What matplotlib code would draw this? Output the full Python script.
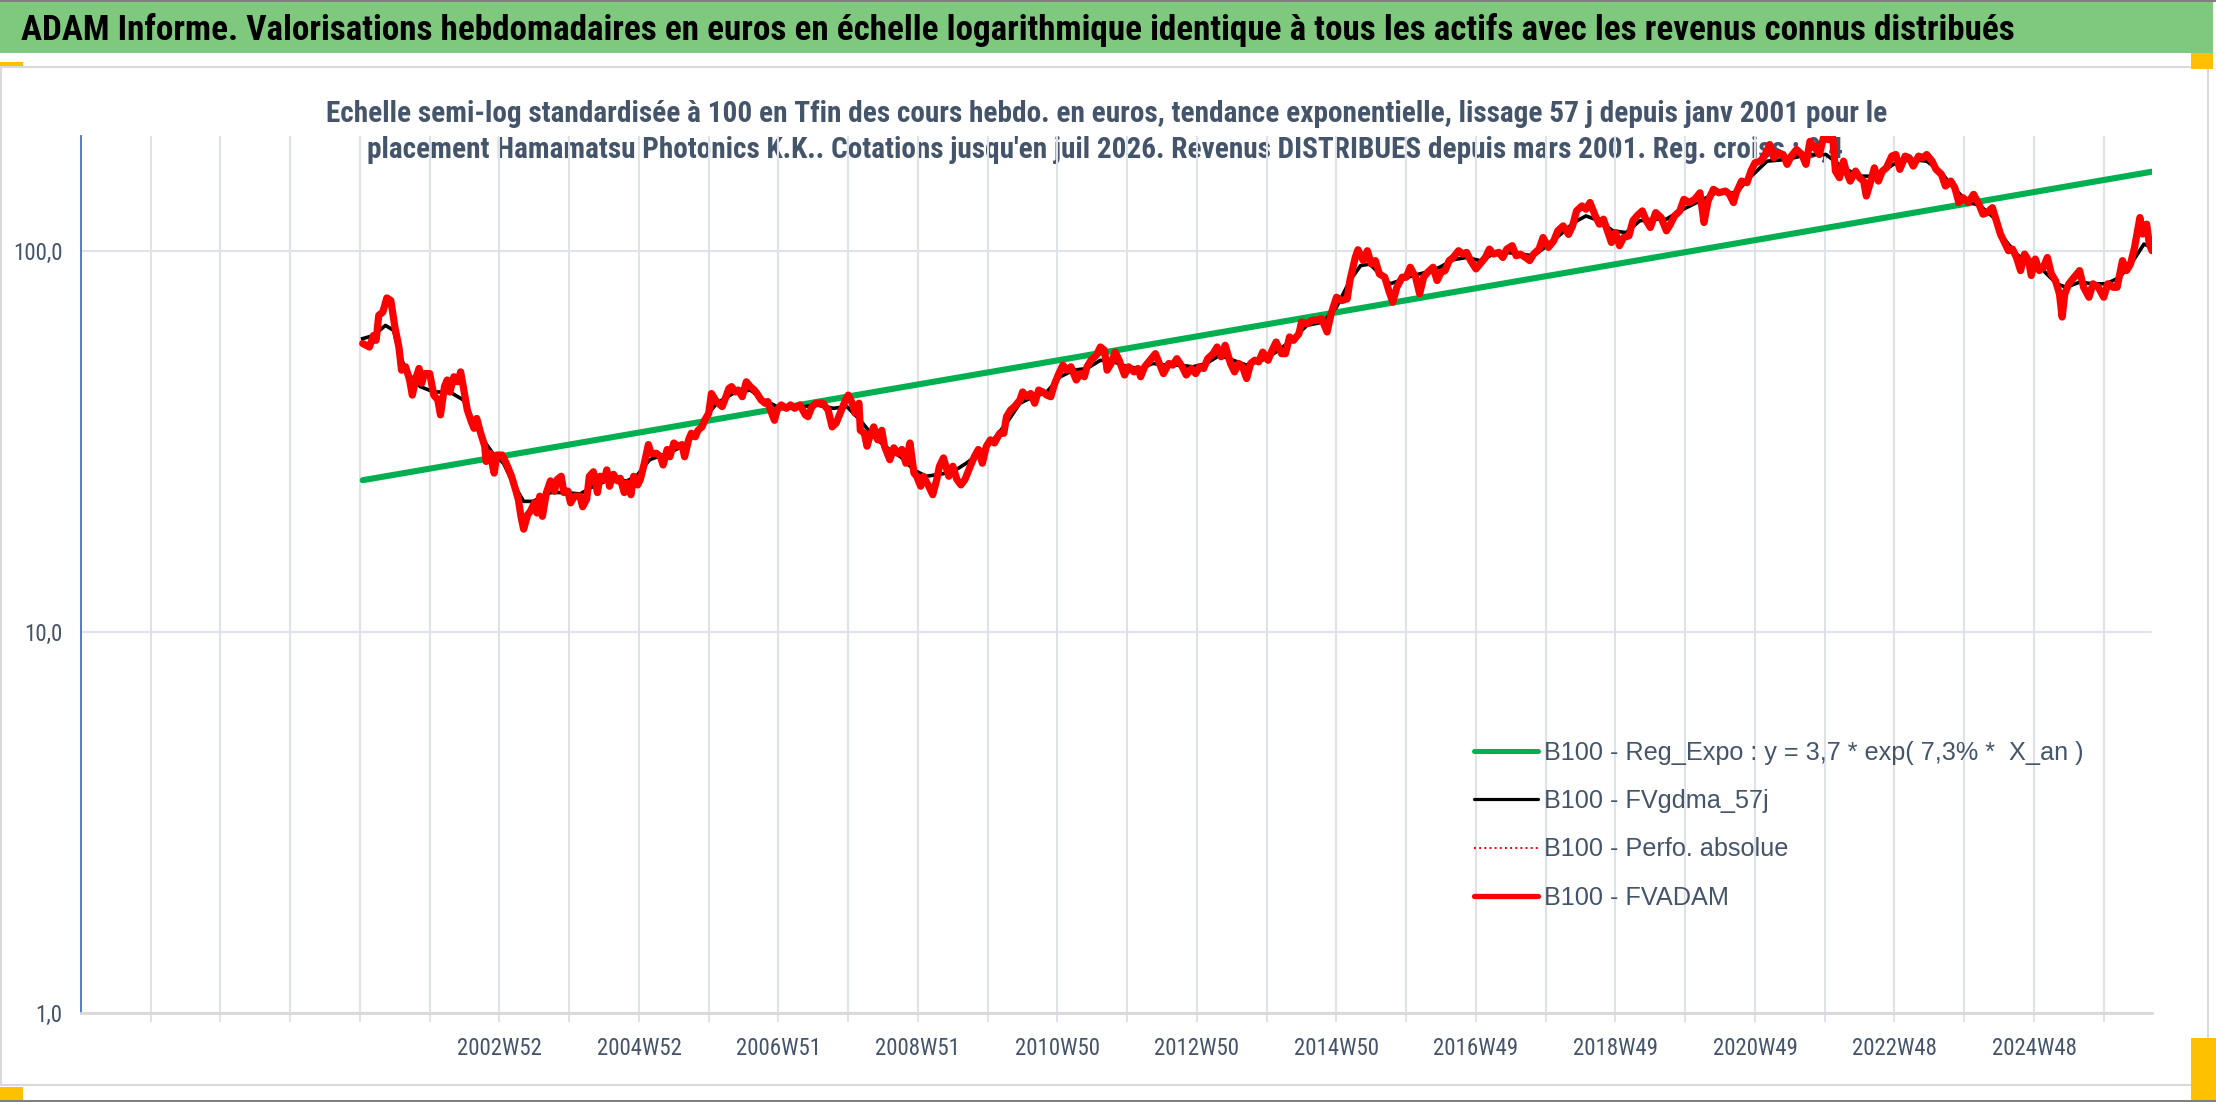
import matplotlib
matplotlib.use("Agg")
import matplotlib.pyplot as plt
from matplotlib import font_manager as fm
from matplotlib.patches import Rectangle
from matplotlib.lines import Line2D
from matplotlib.ticker import NullLocator, FixedLocator

# ---------------- DATA ----------------
title_text = ("ADAM Informe. Valorisations hebdomadaires en euros en échelle logarithmique "
              "identique à tous les actifs avec les revenus connus distribués")
subtitle_line1 = ("Echelle semi-log standardisée à 100 en Tfin des cours hebdo. en euros, tendance "
                  "exponentielle, lissage 57 j depuis janv 2001 pour le")
subtitle_line2 = ("placement Hamamatsu Photonics K.K.. Cotations jusqu'en juil 2026. Revenus "
                  "DISTRIBUES depuis mars 2001. Reg. croiss : 9,4")

legend_labels = ["B100 - Reg_Expo : y = 3,7 * exp( 7,3% *  X_an )",
                 "B100 - FVgdma_57j",
                 "B100 - Perfo. absolue",
                 "B100 - FVADAM"]

# category axis: weekly categories, index 0 .. 1544
n_weeks = 1544
grid_every = 52
xtick_labels = {6: "2002W52", 8: "2004W52", 10: "2006W51", 12: "2008W51", 14: "2010W50",
                16: "2012W50", 18: "2014W50", 20: "2016W49", 22: "2018W49", 24: "2020W49",
                26: "2022W48", 28: "2024W48"}
ytick_vals = [1, 10, 100]
ytick_labels = ["1,0", "10,0", "100,0"]

# exponential trend (straight on a log axis): start / end values
trend_weeks = [210, 1544]
trend_vals = [25.0, 161.2]

# FVADAM (weekly valuation, base 100 at end)
red_weeks = [210, 215, 218, 220, 222, 225, 228, 231, 234, 237, 239, 242, 245, 247, 250, 252, 254, 256,
             260, 263, 266, 268, 271, 273, 275, 278, 281, 283, 285, 288, 291, 293, 295, 298, 301, 302,
             305, 308, 310, 314, 317, 321, 324, 326, 328, 330, 333, 335, 338, 340, 342, 344, 347, 350,
             353, 355, 358, 360, 363, 365, 368, 372, 374, 377, 379, 382, 385, 387, 390, 392, 394, 397,
             400, 402, 405, 407, 410, 412, 415, 417, 420, 423, 425, 429, 432, 434, 437, 439, 442, 445,
             448, 450, 453, 455, 458, 460, 463, 465, 468, 470, 473, 475, 478, 480, 483, 485, 488, 490,
             493, 496, 499, 502, 504, 507, 510, 512, 514, 517, 519, 522, 526, 529, 532, 536, 540, 542,
             545, 548,
             553, 557, 560, 563, 566, 570, 572, 575, 577, 580, 581, 584, 586, 588, 591, 594, 597, 599,
             603, 606, 609, 612, 615, 618, 621, 623, 626, 628, 632, 635, 638, 640, 643, 647, 650, 653,
             656, 659, 663, 666, 669, 672, 675, 678, 681, 685, 688, 690, 693, 696, 700, 702, 705, 708,
             711, 714, 717, 720, 723, 726, 729, 732, 735, 738, 742, 745, 748, 750, 753, 757, 760, 763,
             765, 768, 771, 774, 778, 781, 785, 788, 790, 793, 797, 801, 804, 807, 811, 814, 817, 821,
             824, 828, 831, 834, 837, 840, 844, 847, 850, 853, 857, 860, 863, 866, 869, 872, 875, 878,
             881, 885,
             888, 891, 895, 898, 901, 904, 908, 910, 914, 918, 921, 925, 929, 932, 936, 940, 944, 946,
             950, 952, 956, 959, 962, 965, 968, 972, 975, 978, 981, 985, 988, 991, 995, 998, 1001, 1004,
             1008, 1011, 1014, 1017, 1020, 1023, 1027, 1030, 1033, 1036, 1040, 1043, 1047, 1050, 1053,
             1057, 1060, 1063, 1067, 1070, 1073, 1077, 1080, 1083, 1087, 1090, 1094, 1098, 1101, 1105,
             1109, 1112, 1115, 1119, 1122, 1125, 1129, 1132, 1135, 1138, 1141, 1144, 1147, 1150, 1154,
             1157, 1160, 1164, 1167, 1170, 1174, 1178, 1182, 1185, 1188, 1192, 1195, 1199, 1203, 1207,
             1210, 1213, 1217, 1221,
             1226, 1229, 1232, 1234, 1238, 1242, 1245, 1248, 1252, 1255, 1259, 1262, 1265, 1269, 1272,
             1275, 1279, 1283, 1286, 1289, 1293, 1296, 1299, 1303, 1306, 1308, 1311, 1314, 1316, 1319,
             1323, 1326, 1329, 1331, 1334, 1337, 1340, 1343, 1346, 1350, 1353, 1356, 1360, 1363, 1366,
             1370, 1373, 1376, 1380, 1383, 1387, 1390, 1394, 1397, 1400, 1403, 1407, 1411, 1415, 1418,
             1421, 1425, 1428, 1431, 1434, 1437, 1440, 1443, 1446, 1449, 1452, 1454, 1457, 1460, 1463,
             1466, 1469, 1472, 1475, 1477, 1479, 1482, 1486, 1490, 1493, 1497, 1500, 1504, 1508, 1511,
             1515, 1518, 1522, 1525, 1528, 1531, 1535, 1537, 1540, 1542, 1544]
red_vals = [57.1, 55.9, 59.9, 58.2, 67.7, 69.0, 75.2, 74.0, 63.1, 55.9, 48.6, 49.6, 45.8, 41.8, 46.7, 49.1,
            44.9, 47.6, 47.6, 41.8, 40.6, 37.1, 44.0, 45.8, 42.6, 46.7, 45.3, 48.1, 44.0, 38.2, 35.6, 34.2,
            36.3, 33.2, 30.7, 28.0, 29.4, 26.1, 29.1, 29.1, 27.7, 25.6, 23.6, 22.3, 20.1, 18.6, 20.3, 20.7,
            21.8, 20.5, 22.7, 20.1, 23.2, 24.9, 23.4, 25.1, 25.6, 23.2, 23.4, 21.8, 22.7, 22.7, 21.3, 22.3,
            25.6, 26.3, 23.2, 25.6, 25.1, 26.6, 24.1, 25.9, 24.9, 25.3, 23.2, 24.6, 22.9, 25.6, 24.3, 25.1,
            27.7, 31.0, 29.4, 29.4, 28.8, 27.4, 30.1, 28.8, 31.3, 30.7, 31.0, 28.8, 31.9, 33.2, 32.5, 33.8,
            34.5, 35.9, 37.5, 42.2, 40.6, 39.8, 39.0, 40.6, 43.5, 44.0, 42.6, 43.1, 41.4, 45.3, 44.0, 43.1,
            42.2, 40.6, 39.8, 40.2, 38.2, 35.9, 38.2, 39.4, 38.6, 39.4, 38.6, 39.4, 37.1, 36.7, 39.0, 39.8,
            39.8, 38.2, 34.5, 35.3, 37.5, 40.6, 41.8, 39.8, 37.5, 39.8, 33.8, 33.2, 30.7, 32.5, 34.5, 31.9,
            33.8, 30.7, 28.3, 30.4, 29.4, 30.1, 27.7, 31.3, 26.1, 25.6, 24.1, 25.6, 24.1, 22.9, 25.1, 27.2,
            28.6, 25.6, 27.2, 25.1, 24.3, 25.1, 27.2, 28.8, 30.1, 27.7, 30.7, 31.9, 31.3, 33.2, 33.2, 36.7,
            38.2, 39.0, 40.6, 42.6, 41.4, 42.2, 39.8, 43.1, 42.6, 41.8, 41.4, 44.9, 47.6, 50.1, 48.6, 49.6,
            45.8, 47.6, 46.7, 49.6, 51.6, 53.2, 55.9, 54.8, 48.6, 50.6, 54.2, 51.6, 47.2, 49.6, 48.1, 49.1,
            46.7, 49.6, 51.6, 53.7, 50.6, 47.6, 50.6, 50.1, 52.1, 49.6, 47.2, 49.1, 47.6, 49.6, 49.1, 52.1,
            53.7, 55.9, 52.7, 56.5, 50.6, 48.1, 50.6, 49.6, 46.2, 50.6, 51.6, 51.1, 54.2, 51.6,
            54.8, 57.6, 53.7, 53.7, 59.4, 58.2, 60.6, 65.0, 64.4, 65.7, 65.7, 66.3, 61.2, 68.3, 75.5, 74.0,
            74.8, 83.5, 96.0, 100.6, 94.2, 100.0, 92.3, 94.2, 86.9, 85.2, 78.6, 73.3, 80.2, 85.2, 85.2,
            90.5, 85.2, 77.1, 85.2, 87.8, 90.5, 83.5, 87.8, 88.7, 94.2, 96.0, 100.0, 98.0, 99.0, 94.2,
            89.6, 92.3, 96.0, 101.0, 98.0, 99.0, 96.0, 101.0, 103.1, 97.0, 98.0, 96.0, 94.2, 98.0, 101.0,
            108.3, 102.0, 106.2, 112.8, 116.2, 110.4, 116.2, 127.2, 131.1, 128.5, 133.8, 123.4, 117.4,
            121.0, 112.8, 105.1, 111.6, 103.1, 108.3, 109.4, 119.8, 123.4, 127.2, 119.8, 115.1, 125.9,
            122.2, 112.8, 117.4, 123.4, 127.2, 136.4, 133.8, 136.4, 141.9, 118.6, 135.1, 144.9, 141.9,
            143.4, 140.6, 133.8, 141.9, 152.3, 150.8, 161.8, 170.1, 171.8, 177.1, 189.9, 175.3, 180.5,
            178.8, 168.5, 177.1, 184.3, 178.8, 168.5, 193.6, 186.1, 178.8, 197.5, 195.6, 197.5, 161.8,
            155.4, 171.8, 161.8, 152.3, 161.8, 155.4, 152.3, 139.2, 150.8, 165.0, 152.3, 161.8, 165.0,
            177.1, 178.8, 163.5, 177.1, 175.3, 166.8, 177.1, 175.3, 178.8, 171.8, 163.5, 158.6, 147.8,
            152.3, 146.3, 133.8, 137.8, 133.8, 140.6, 132.4, 124.7, 125.9, 129.7, 119.8, 110.6, 105.1,
            100.0, 101.0, 96.0, 88.7, 98.0, 94.2, 86.1, 95.1, 88.7, 90.5, 96.0, 86.9, 83.5, 77.1, 67.0,
            77.1, 81.9, 85.2, 88.7, 80.2, 75.5, 81.9, 80.2, 75.5, 81.9, 80.2, 80.2, 94.2, 88.7, 92.3,
            102.0, 122.2, 110.6, 117.4, 104.1, 100.0]

# FVgdma_57j (smoothed)
black_weeks = [210, 218, 227, 233, 238, 244, 253, 263, 275, 285, 292, 300, 307, 315, 322, 330, 337, 350,
               362, 372, 382, 394, 407, 414, 424, 437, 449, 459, 466, 474, 486, 499, 509, 519, 531, 548,
               561, 571, 581, 591, 601, 611, 621, 630, 640, 650, 660, 670, 680, 690, 700, 710, 720, 730,
               740, 750, 760, 770, 780, 790, 799, 809, 819, 829, 839, 849, 859, 869, 884, 901, 914, 926,
               936, 946, 954, 961, 968, 976, 983, 993, 1003, 1013, 1023, 1033, 1043, 1053, 1063, 1073,
               1083, 1093, 1103, 1113, 1122, 1132, 1142, 1152, 1162, 1172, 1182, 1192, 1202, 1219, 1234,
               1244, 1257, 1272, 1287, 1301, 1314, 1326, 1339, 1351, 1364, 1376, 1386, 1396, 1406, 1416,
               1426, 1433, 1443, 1453, 1463, 1473, 1480, 1490, 1500, 1510, 1520, 1530, 1538, 1544]
black_vals = [58.8, 59.9, 63.7, 61.8, 52.6, 47.6, 44.0, 42.6, 42.6, 40.6, 35.9, 31.9, 29.4, 27.7, 24.6,
              22.0, 22.0, 23.2, 23.2, 23.0, 24.1, 25.1, 24.9, 25.6, 28.3, 29.4, 30.7, 33.2, 36.7, 39.8,
              42.2, 43.1, 40.6, 39.0, 38.6, 39.4, 38.6, 39.0, 35.9, 32.5, 30.4, 28.8, 26.6, 25.6, 25.9,
              26.3, 27.7, 29.4, 31.9, 35.3, 39.8, 41.4, 42.6, 46.7, 48.6, 49.1, 51.6, 51.1, 49.6, 49.1,
              50.6, 50.1, 50.1, 49.6, 50.6, 53.2, 51.6, 50.1, 52.1, 57.6, 63.7, 65.0, 71.1, 83.5, 91.4,
              92.3, 86.9, 81.9, 83.5, 86.1, 87.8, 90.5, 94.7, 96.0, 94.2, 98.0, 99.0, 98.0, 97.0, 103.1,
              110.4, 118.6, 123.4, 119.8, 112.8, 111.6, 119.8, 121.0, 121.0, 127.2, 132.4, 141.9, 141.9,
              155.4, 171.8, 173.6, 178.8, 178.8, 165.0, 156.9, 156.9, 168.5, 173.6, 171.8, 161.8, 146.3,
              135.1, 131.1, 122.2, 108.3, 98.0, 92.3, 88.7, 81.9, 80.2, 82.7, 81.9, 81.9, 85.2, 94.2,
              104.1, 102.0]

# ---------------- STYLE ----------------
W, H = 2216, 1102


def pick_font(cands):
    names = {f.name for f in fm.fontManager.ttflist}
    for c in cands:
        if c in names:
            return c
    return "DejaVu Sans"


FONT = pick_font(["Liberation Sans Narrow", "Roboto Condensed", "Open Sans Condensed",
                  "Liberation Sans", "Open Sans"])
FONT_LEG = pick_font(["Liberation Sans", "Lato", "Open Sans"])
plt.rcParams["font.family"] = [FONT, "DejaVu Sans"]

TXT = "#44546A"
GRID = "#DFE2E8"
RED = "#FF0000"
GREEN = "#00B050"
YELLOW = "#FFC000"


def fx(x):
    return x / W


def fy(y):
    return 1 - y / H


fig = plt.figure(figsize=(W / 100, H / 100), dpi=100)
fig.patch.set_facecolor("white")


def frect(x0, y0, x1, y1, color, z=0, **kw):
    r = Rectangle((fx(x0), fy(y1)), fx(x1) - fx(x0), fy(y0) - fy(y1), transform=fig.transFigure,
                  facecolor=color, edgecolor="none", zorder=z, **kw)
    fig.add_artist(r)
    return r


# frame decorations
frect(0, 0, W, 2, "#7F7F7F", z=0)
frect(0, 2, 2213, 52.7, "#7FC97F", z=0)
border = Rectangle((fx(1), fy(1085)), fx(2208) - fx(1), fy(66.5) - fy(1085), transform=fig.transFigure,
                   facecolor="none", edgecolor="#D9D9D9", lw=1.5, zorder=0.2)
fig.add_artist(border)
frect(0, 1100, W, H, "#7F7F7F", z=0.3)
frect(0, 61.7, 22.6, 65.7, YELLOW, z=0.4)
frect(2190.7, 52.7, 2213, 69, YELLOW, z=0.4)
frect(0, 1086.7, 22.6, 1100, YELLOW, z=0.4)
frect(2191, 1038, W, 1100, YELLOW, z=0.4)

renderer = fig.canvas.get_renderer()


def fit(t, target):
    w = t.get_window_extent(renderer).width
    t.set_fontsize(t.get_fontsize() * target / w)


t_title = fig.text(fx(21), fy(40), title_text, ha="left", va="baseline", fontsize=22,
                   fontweight="bold", color="black", zorder=1)
fit(t_title, 1997)

t_s1 = fig.text(fx(1107), fy(121.5), subtitle_line1, ha="center", va="baseline", fontsize=19,
                fontweight="bold", color=TXT, zorder=1)
fit(t_s1, 1559)
t_s2 = fig.text(fx(1105), fy(158), subtitle_line2, ha="center", va="baseline",
                fontsize=t_s1.get_fontsize(), fontweight="bold", color=TXT, zorder=1)

# legend font size fitted on the widest label
probe = fig.text(0, 0, legend_labels[0], fontsize=17, family=FONT_LEG)
fit(probe, 541)
LEG_FS = probe.get_fontsize()
probe.remove()

# ---------------- AXES ----------------
ax = fig.add_axes([fx(81), fy(1013), fx(2152) - fx(81), fy(136) - fy(1013)])
ax.set_zorder(2)
ax.patch.set_alpha(0)
ax.set_yscale("log")
ax.set_xlim(0, n_weeks)
ax.set_ylim(1, 200)

xt = [grid_every * k for k in range(1, n_weeks // grid_every + 1)]
ax.xaxis.set_major_locator(FixedLocator(xt))
ax.set_xticklabels([xtick_labels.get(k, "") for k in range(1, n_weeks // grid_every + 1)])
ax.yaxis.set_major_locator(FixedLocator(ytick_vals))
ax.yaxis.set_minor_locator(NullLocator())
ax.set_yticklabels(ytick_labels)

ax.grid(True, which="major", axis="both", color=GRID, lw=1.5, zorder=0)
ax.set_axisbelow(True)
for s in ("top", "right"):
    ax.spines[s].set_visible(False)
ax.spines["left"].set_color("#4472C4")
ax.spines["left"].set_linewidth(1.3)
ax.spines["bottom"].set_color("#D9D9D9")
ax.spines["bottom"].set_linewidth(2)

ax.tick_params(axis="x", length=6.5, width=1.5, color=GRID, pad=11, labelsize=16.5, labelcolor=TXT)
ax.tick_params(axis="y", length=0, pad=13.5, labelsize=16.5, labelcolor=TXT)

# series
ax.plot(trend_weeks, trend_vals, color=GREEN, lw=4.4, solid_capstyle="round", zorder=3)
ax.plot(black_weeks, black_vals, color="black", lw=2.6, solid_joinstyle="round", zorder=4)
ax.plot(red_weeks, red_vals, color=RED, lw=0.8, ls=":", zorder=4.5)
ax.plot(red_weeks, red_vals, color=RED, lw=5.2, solid_joinstyle="round", solid_capstyle="round", zorder=5)

handles = [Line2D([], [], color=GREEN, lw=3.6, solid_capstyle="round"),
           Line2D([], [], color="black", lw=2.3, solid_capstyle="round"),
           Line2D([], [], color=RED, lw=1.4, ls=":"),
           Line2D([], [], color=RED, lw=3.8, solid_capstyle="round")]
fs_px = LEG_FS * 100 / 72
leg = ax.legend(handles, legend_labels, loc="upper left", bbox_to_anchor=(fx(1474), fy(741)),
                bbox_transform=fig.transFigure, frameon=False,
                prop={"family": FONT_LEG, "size": LEG_FS},
                handlelength=64 / fs_px, handletextpad=6 / fs_px, labelspacing=0.96,
                borderpad=0, borderaxespad=0)
for t in leg.get_texts():
    t.set_color(TXT)

fig.savefig("out.png", dpi=100, facecolor="white")
